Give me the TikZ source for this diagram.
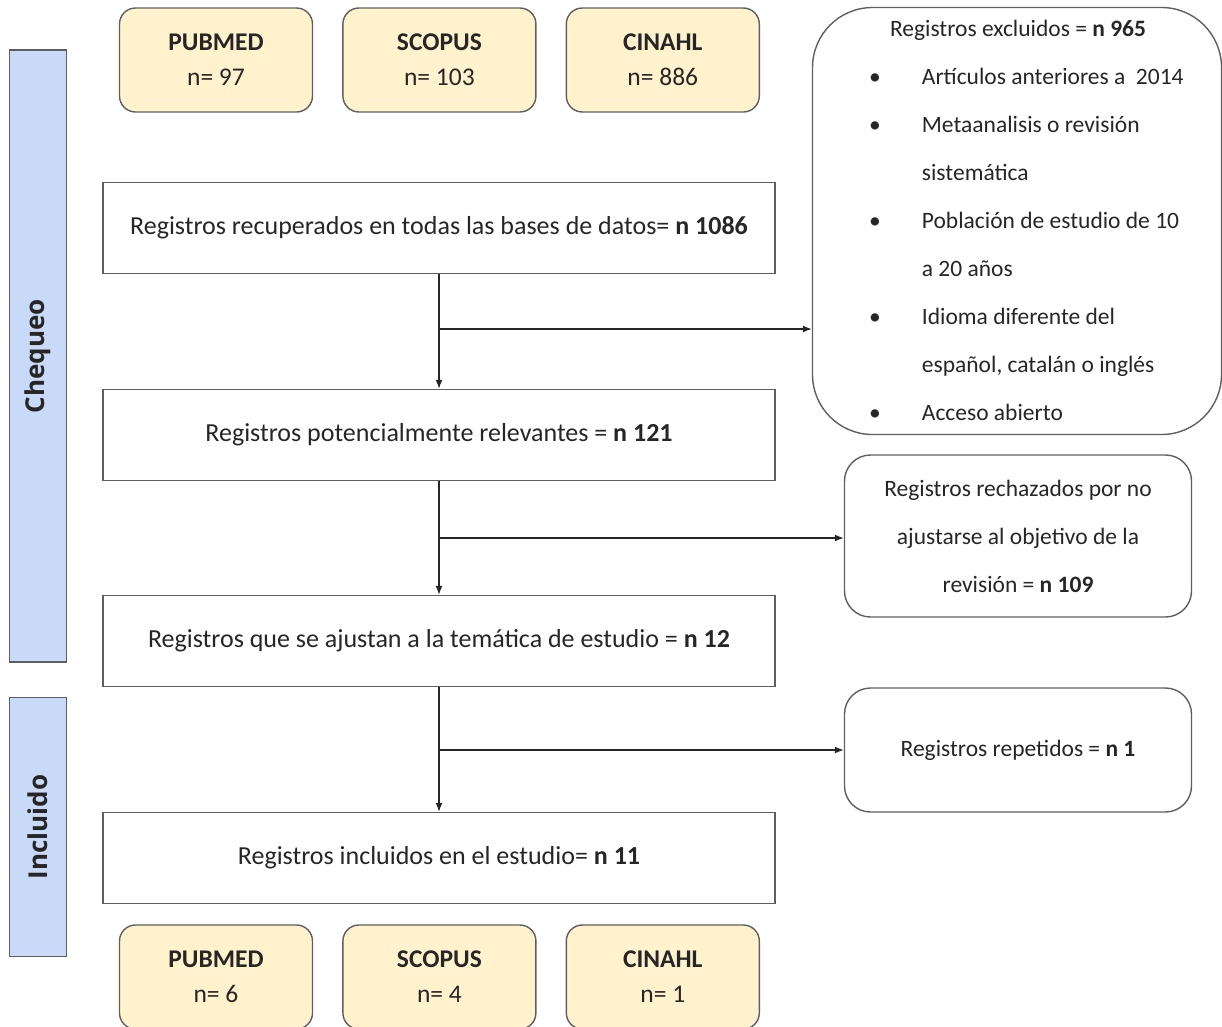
\documentclass[tikz,border=0pt]{standalone}
\usepackage{fontspec}
\setmainfont{Carlito}
\newfontfamily\phasefont{Open Sans}
\usepackage{xcolor}
\usepackage{tikz}
\usetikzlibrary{positioning, arrows.meta}
\definecolor{dbFill}{HTML}{FFF2CC}
\definecolor{phFill}{HTML}{C9DAF8}
\definecolor{bLine}{HTML}{5F5F5F}
\definecolor{tInk}{HTML}{262626}
\tikzset{
  dbbox/.style={draw=bLine, fill=dbFill, line width=1.4pt, rounded corners=16pt,
    minimum width=193pt, minimum height=104pt, align=center, text=tInk,
    font=\fontsize{25.5}{35}\selectfont},
  stagebox/.style={draw=bLine, line width=1.4pt, minimum width=672pt, minimum height=91pt,
    text=tInk, font=\fontsize{26}{30}\selectfont},
  sidebox/.style={draw=bLine, line width=1.4pt, rounded corners=26pt, minimum width=347pt,
    align=center, text=tInk, font=\fontsize{23.5}{48}\selectfont},
  phase/.style={draw=bLine, fill=phFill, line width=1.4pt, minimum height=57pt,
    rotate=90, text=tInk, font=\phasefont\fontsize{26}{30}\selectfont\bfseries},
  flow/.style={draw=tInk, line width=1.3pt, -{Latex[length=9pt,width=7pt]}},
}

\begin{document}
\begin{tikzpicture}[x=1pt,y=-1pt]
        \path[use as bounding box] (0,0) rectangle (1222,1026);
        % bases de datos (arriba)
        \node[dbbox] (pub1) at (216,60) {\textbf{PUBMED}\\n= 97};
        \node[dbbox, right=29pt of pub1] (sco1) {\textbf{SCOPUS}\\n= 103};
        \node[dbbox, right=29pt of sco1] (cin1) {\textbf{CINAHL}\\n= 886};
        % fases
        \node[phase, minimum width=612pt] (cheq) at (38,356) {Chequeo};
        \node[phase, minimum width=259pt] (incl) at (38,827) {Incluido};
        % etapas
        \node[stagebox] (rec) at (439,228) {Registros recuperados en todas las bases de datos= \textbf{n 1086}};
        \node[stagebox] (pot) at (439,435) {Registros potencialmente relevantes = \textbf{n 121}};
        \node[stagebox] (tem) at (439,641) {Registros que se ajustan a la temática de estudio = \textbf{n 12}};
        \node[stagebox] (inc) at (439,858) {Registros incluidos en el estudio= \textbf{n 11}};
        % bases de datos (abajo)
        \node[dbbox] (pub2) at (216,977) {\textbf{PUBMED}\\n= 6};
        \node[dbbox, right=29pt of pub2] (sco2) {\textbf{SCOPUS}\\n= 4};
        \node[dbbox, right=29pt of sco2] (cin2) {\textbf{CINAHL}\\n= 1};
        % exclusiones
        \node[sidebox, rounded corners=60pt, minimum width=409pt, minimum height=427pt] (exc) at (1017,221) {};
        \node[text=tInk, font=\fontsize{23.5}{28}\selectfont] (exct) at (1018,30) {Registros excluidos = \textbf{n 965}};
        \node[anchor=north west, inner sep=0pt, text=tInk, font=\fontsize{23.5}{24}\selectfont] (excl) at (869,51)
          {\renewcommand{\arraystretch}{2}\begin{tabular}{@{}l@{\hspace{41pt}}l@{}}
            \textbullet & Artículos anteriores a~~2014\\
            \textbullet & Metaanalisis o revisión\\
             & sistemática\\
            \textbullet & Población de estudio de 10\\
             & a 20 años\\
            \textbullet & Idioma diferente del\\
             & español, catalán o inglés\\
            \textbullet & Acceso abierto
          \end{tabular}};
        \node[sidebox, minimum height=162pt] (rej) at (1018,536)
          {Registros rechazados por no\\ajustarse al objetivo de la\\revisión = \textbf{n 109}};
        \node[sidebox, minimum height=124pt] (rep) at (1018,750) {Registros repetidos = \textbf{n 1}};
        % conectores
        \coordinate (b1) at (439,329);
        \coordinate (b2) at (439,538);
        \coordinate (b3) at (439,750);
        \draw[flow] (rec) -- (pot);
        \draw[flow] (pot) -- (tem);
        \draw[flow] (tem) -- (inc);
        \draw[flow] (b1) -- (b1 -| exc.west);
        \draw[flow] (b2) -- (b2 -| rej.west);
        \draw[flow] (b3) -- (b3 -| rep.west);
      \end{tikzpicture}
\end{document}
